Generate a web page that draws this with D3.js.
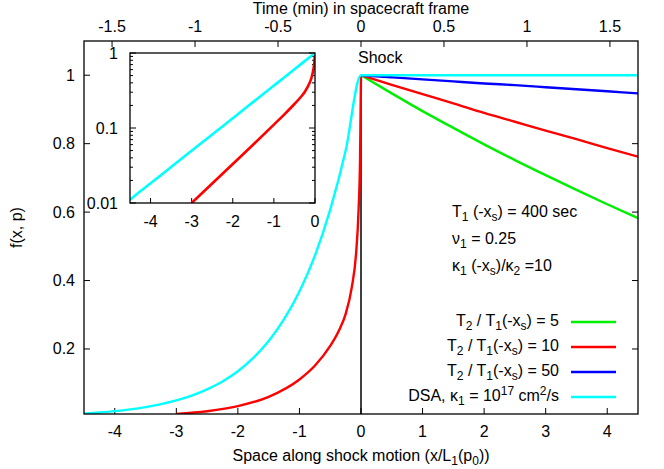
<!DOCTYPE html>
<html>
<head>
<meta charset="utf-8">
<script src="https://cdn.jsdelivr.net/npm/d3@7"></script>
<style>
  body { margin: 0; background: #fff; }
  svg { display: block; font-family: "Liberation Sans", Arial, Helvetica, sans-serif; }
</style>
</head>
<body>
<div id="chart"></div>
<script>
// ── Data ──
const xTicks = [-4, -3, -2, -1, 0, 1, 2, 3, 4];
const yTicks = [0.2, 0.4, 0.6, 0.8, 1];
const timeTicks = [-1.5, -1, -0.5, 0, 0.5, 1, 1.5];
const insetXTicks = [-4, -3, -2, -1, 0];
const insetYTicks = [0.01, 0.1, 1];

// DSA (cyan): upstream profile + flat downstream
const dsaX = [-4.5, -4.25, -4, -3.75, -3.5, -3.25, -3, -2.75, -2.5, -2.25, -2, -1.75, -1.5, -1.25, -1, -0.75, -0.5, -0.25, 0, 4.5];
const dsaF = [0.011, 0.0143, 0.0183, 0.0235, 0.0302, 0.0388, 0.0498, 0.0639, 0.0821, 0.105, 0.135, 0.174, 0.223, 0.287, 0.368, 0.472, 0.607, 0.779, 1.0, 1.0];

// upstream profile (red, shared by all T2 runs)
const upX = [-3, -2.5, -2, -1.5, -1, -0.75, -0.5, -0.35, -0.25, -0.15, -0.08, -0.04, -0.015, 0];
const upF = [0.0100, 0.0182, 0.0331, 0.0603, 0.111, 0.151, 0.209, 0.257, 0.302, 0.380, 0.479, 0.603, 0.759, 1.0];

// downstream profiles
const downX = [0, 0.5, 1, 1.5, 2, 2.5, 3, 3.5, 4, 4.5];
const downT5 = [1, 0.947, 0.895, 0.846, 0.798, 0.752, 0.708, 0.665, 0.623, 0.5825];
const downT10 = [1, 0.972, 0.945, 0.918, 0.890, 0.864, 0.838, 0.813, 0.787, 0.762];
const downT50 = [1, 0.994, 0.988, 0.982, 0.976, 0.971, 0.965, 0.959, 0.953, 0.947];

const seriesLabels = ["T_2 / T_1(-x_s) = 5", "T_2 / T_1(-x_s) = 10", "T_2 / T_1(-x_s) = 50", "DSA, κ_1 = 10^{17} cm^2/s"];
const seriesColors = ["#00ee00", "#ff0000", "#0000ff", "#00ffff"];
const notes = ["T_1 (-x_s) = 400 sec", "ν_1 = 0.25", "κ_1 (-x_s)/κ_2 =10"];

// ── Layout ──
const W = 664, H = 469;
const M = { left: 84, right: 638, top: 41, bottom: 414 };
const IN = { left: 130, right: 315, top: 53, bottom: 203 };
const FS = 16;

const svg = d3.select("#chart").append("svg").attr("width", W).attr("height", H);

const x = d3.scaleLinear().domain([-4.5, 4.5]).range([M.left, M.right]);
const y = d3.scaleLinear().domain([0.01, 1.1]).range([M.bottom, M.top]);
const xTime = d3.scaleLinear().domain([-1.669, 1.669]).range([M.left, M.right]);

const zip = (xs, fs) => xs.map((v, i) => [v, fs[i]]);

// gnuplot-ish enhanced text: _x / _{xx} subscript, ^x / ^{xx} superscript
function rich(sel, str, size) {
  let off = 0, i = 0;
  const small = Math.round(size * 0.72);
  while (i < str.length) {
    const c = str[i];
    if (c === "_" || c === "^") {
      let t;
      if (str[i + 1] === "{") { const j = str.indexOf("}", i); t = str.slice(i + 2, j); i = j + 1; }
      else { t = str[i + 1]; i += 2; }
      const target = c === "_" ? 4 : -6;
      sel.append("tspan").attr("dy", target - off).attr("font-size", small).text(t);
      off = target;
    } else {
      let j = i;
      while (j < str.length && str[j] !== "_" && str[j] !== "^") j++;
      sel.append("tspan").attr("dy", -off).attr("font-size", size).text(str.slice(i, j));
      off = 0; i = j;
    }
  }
  return sel;
}

const defs = svg.append("defs");
defs.append("clipPath").attr("id", "clipMain").append("rect")
  .attr("x", M.left).attr("y", M.top).attr("width", M.right - M.left).attr("height", M.bottom - M.top);
defs.append("clipPath").attr("id", "clipInset").append("rect")
  .attr("x", IN.left).attr("y", IN.top).attr("width", IN.right - IN.left).attr("height", IN.bottom - IN.top);

// ── Main axes ticks ──
const axG = svg.append("g").attr("stroke", "#000").attr("stroke-width", 1);
xTicks.forEach(v => axG.append("line").attr("x1", x(v)).attr("x2", x(v)).attr("y1", M.bottom).attr("y2", M.bottom - 6));
timeTicks.forEach(v => axG.append("line").attr("x1", xTime(v)).attr("x2", xTime(v)).attr("y1", M.top).attr("y2", M.top + 6));
yTicks.forEach(v => {
  axG.append("line").attr("x1", M.left).attr("x2", M.left + 6).attr("y1", y(v)).attr("y2", y(v));
  axG.append("line").attr("x1", M.right).attr("x2", M.right - 6).attr("y1", y(v)).attr("y2", y(v));
});

svg.append("g").selectAll("text").data(xTicks).join("text")
  .attr("x", d => x(d)).attr("y", 437).attr("text-anchor", "middle").attr("font-size", FS).text(d => d);
svg.append("g").selectAll("text").data(timeTicks).join("text")
  .attr("x", d => xTime(d)).attr("y", 32).attr("text-anchor", "middle").attr("font-size", FS).text(d => d);
svg.append("g").selectAll("text").data(yTicks).join("text")
  .attr("x", 75).attr("y", d => y(d) + 5.5).attr("text-anchor", "end").attr("font-size", FS).text(d => d);

rich(svg.append("text").attr("x", x(0)).attr("y", 461).attr("text-anchor", "middle"), "Space along shock motion (x/L_1(p_0))", FS);
svg.append("text").attr("x", x(0)).attr("y", 14).attr("text-anchor", "middle").attr("font-size", FS)
  .text("Time (min) in spacecraft frame");
svg.append("text").attr("transform", `translate(22,${(M.top + M.bottom) / 2}) rotate(-90)`)
  .attr("text-anchor", "middle").attr("font-size", FS).text("f(x, p)");

// ── Main curves ──
const line = d3.line().x(d => x(d[0])).y(d => y(d[1])).curve(d3.curveMonotoneX);
const plot = svg.append("g").attr("clip-path", "url(#clipMain)").attr("fill", "none").attr("stroke-width", 2.4);

plot.append("line").attr("x1", x(0)).attr("x2", x(0)).attr("y1", y(0.01)).attr("y2", y(1))
  .attr("stroke", "#000").attr("stroke-width", 1.5);
plot.append("path").attr("d", line(zip(downX, downT5))).attr("stroke", seriesColors[0]);
plot.append("path").attr("d", line(zip(upX, upF))).attr("stroke", seriesColors[1]);
plot.append("path").attr("d", line(zip(downX, downT10))).attr("stroke", seriesColors[1]);
plot.append("path").attr("d", line(zip(downX, downT50))).attr("stroke", seriesColors[2]);
plot.append("path").attr("d", line(zip(dsaX, dsaF))).attr("stroke", seriesColors[3]);

svg.append("rect").attr("x", M.left).attr("y", M.top).attr("width", M.right - M.left).attr("height", M.bottom - M.top)
  .attr("fill", "none").attr("stroke", "#000").attr("stroke-width", 1.3);

// ── Annotations ──
svg.append("text").attr("x", 358).attr("y", 63).attr("font-size", FS).text("Shock");
notes.forEach((s, i) => rich(svg.append("text").attr("x", 452).attr("y", 217 + i * 27), s, FS));

// legend
seriesLabels.forEach((s, i) => {
  const ly = 326 + i * 25;
  rich(svg.append("text").attr("x", 559).attr("y", ly).attr("text-anchor", "end"), s, FS);
  svg.append("line").attr("x1", 571).attr("x2", 616).attr("y1", ly - 4).attr("y2", ly - 4)
    .attr("stroke", seriesColors[i]).attr("stroke-width", 2.4);
});

// ── Inset (log scale) ──
const ix = d3.scaleLinear().domain([-4.5, 0]).range([IN.left, IN.right]);
const iy = d3.scaleLog().domain([0.01, 1]).range([IN.bottom, IN.top]);
const inset = svg.append("g");
inset.append("rect").attr("x", IN.left).attr("y", IN.top).attr("width", IN.right - IN.left).attr("height", IN.bottom - IN.top)
  .attr("fill", "#fff");

const iax = inset.append("g").attr("stroke", "#000").attr("stroke-width", 1);
insetXTicks.forEach(v => iax.append("line").attr("x1", ix(v)).attr("x2", ix(v)).attr("y1", IN.bottom).attr("y2", IN.bottom - 5));
iy.ticks().forEach(v => {
  const major = insetYTicks.includes(v);
  const len = major ? 6 : 3;
  iax.append("line").attr("x1", IN.left).attr("x2", IN.left + len).attr("y1", iy(v)).attr("y2", iy(v));
  iax.append("line").attr("x1", IN.right).attr("x2", IN.right - len).attr("y1", iy(v)).attr("y2", iy(v));
});
inset.append("g").selectAll("text").data(insetXTicks).join("text")
  .attr("x", d => ix(d)).attr("y", 227).attr("text-anchor", "middle").attr("font-size", FS).text(d => d);
inset.append("g").selectAll("text").data(insetYTicks).join("text")
  .attr("x", 118).attr("y", d => iy(d) + 5.5).attr("text-anchor", "end").attr("font-size", FS).text(d => d);

const iline = d3.line().x(d => ix(d[0])).y(d => iy(d[1])).curve(d3.curveMonotoneX);
const ip = inset.append("g").attr("clip-path", "url(#clipInset)").attr("fill", "none").attr("stroke-width", 2.6);
ip.append("path").attr("d", iline(zip(upX, upF))).attr("stroke", seriesColors[1]);
ip.append("path").attr("d", iline(zip(dsaX.slice(0, -1), dsaF.slice(0, -1)))).attr("stroke", seriesColors[3]);

inset.append("rect").attr("x", IN.left).attr("y", IN.top).attr("width", IN.right - IN.left).attr("height", IN.bottom - IN.top)
  .attr("fill", "none").attr("stroke", "#000").attr("stroke-width", 1.3);
</script>
</body>
</html>
